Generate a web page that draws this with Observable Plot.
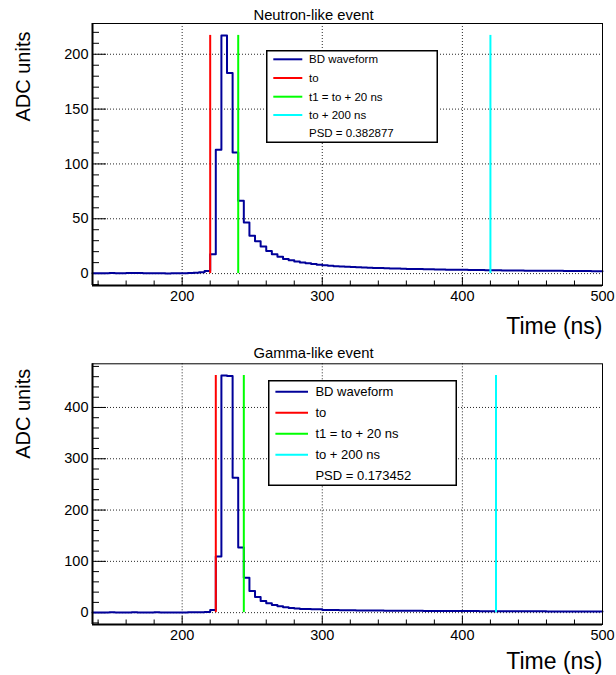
<!DOCTYPE html>
<html>
<head>
<meta charset="utf-8">
<script src="https://cdn.jsdelivr.net/npm/d3@7"></script>
<script src="https://cdn.jsdelivr.net/npm/@observablehq/plot@0.6"></script>
<style>
  html, body { margin: 0; padding: 0; background: #fff; }
  body { width: 616px; height: 675px; overflow: hidden; font-family: "Liberation Sans", Arial, Helvetica, sans-serif; }
  .pad { position: relative; width: 616px; }
  .pad svg { display: block; }
  .legend { position: absolute; }
</style>
</head>
<body>
<div id="chart"></div>
<script>
// ---------------- data ----------------
const xDomain = [136, 500];         // time window (ns)
const binWidth = 4;                 // ns per sample
const timeBins = d3.range(xDomain[0], xDomain[1], binWidth); // bin start times

const xMajorTicks = [200, 300, 400, 500];
const xMinorTicks = [140, 160, 180, 220, 240, 260, 280, 320, 340, 360, 380, 420, 440, 460, 480];

// Neutron-like event waveform (ADC units per 4 ns bin, starting at 136 ns)
const neutronValues = [
  0.4, 0.3, 0.4, 0.5, 0.3, 0.4, 0.5, 0.6, 0.5, 0.4, 0.3, 0.4, 0.3, 0.2, 0.3, 0.3, 0.4, 0.6, 0.8,
  1.2, 2.3, 17.7, 113, 217.2, 183, 110.5, 66.5, 46.5, 34.5, 29.5, 24.8, 20.7, 17.6, 15.4, 13.4,
  12.1, 11.1, 10.2, 9.4, 8.7, 8.0, 7.6, 7.1, 6.7, 6.4, 6.2, 6.0, 5.8, 5.6, 5.4, 5.2, 5.0, 4.9,
  4.7, 4.6, 4.5, 4.3, 4.2, 4.1, 4.0, 3.9, 3.8, 3.7, 3.6, 3.5, 3.4, 3.4, 3.3, 3.2, 3.2, 3.1,
  3.0, 3.0, 2.9, 2.9, 2.8, 2.8, 2.7, 2.7, 2.6, 2.6, 2.5, 2.5, 2.5, 2.4, 2.4, 2.3, 2.3, 2.3,
  2.2, 2.2
];
const neutronT0 = 220;
const neutronPSD = "0.382877";
const neutronYDomain = [-10.85, 228.05];
const neutronYMajor = [0, 50, 100, 150, 200];
const neutronYMinor = [-10, 10, 20, 30, 40, 60, 70, 80, 90, 110, 120, 130, 140, 160, 170, 180, 190, 210, 220];

// Gamma-like event waveform
const gammaValues = [
  0.5, 0.4, 0.5, 0.6, 0.4, 0.5, 0.5, 0.6, 0.5, 0.4, 0.5, 0.6, 0.5, 0.4, 0.5, 0.5, 0.4, 0.6, 0.7, 0.9,
  1.5, 5.2, 109.5, 462.3, 461.5, 263, 127, 68, 42.3, 30.5, 22.7, 18.2, 15.0, 12.3, 10.4, 9.1,
  7.9, 7.3, 7.0, 6.6, 6.4, 5.4, 5.2, 5.0, 4.8, 4.6, 4.5, 4.4, 4.3, 4.2, 4.1, 4.0, 3.9, 3.8,
  3.8, 3.7, 3.6, 3.5, 3.5, 3.4, 3.4, 3.3, 3.3, 3.2, 3.2, 3.1, 3.1, 3.0, 3.0, 2.9, 2.9, 2.8,
  2.8, 2.7, 2.7, 2.7, 2.6, 2.6, 2.5, 2.5, 2.5, 2.4, 2.4, 2.3, 2.3, 2.3, 2.2, 2.2, 2.2, 2.1, 2.1
];
const gammaT0 = 224;
const gammaPSD = "0.173452";
const gammaYDomain = [-23.1, 485.1];
const gammaYMajor = [0, 100, 200, 300, 400];
const gammaYMinor = [-20, 20, 40, 60, 80, 120, 140, 160, 180, 220, 240, 260, 280, 320, 340, 360, 380, 420, 440, 460, 480];

const legendLabels = ["BD waveform", "to", "t1 = to + 20 ns", "to + 200 ns"];
const seriesColors = ["#000099", "#ff0000", "#00ff00", "#00ffff"];

// ---------------- drawing ----------------
const FONT = "'Liberation Sans', Arial, Helvetica, sans-serif";

function panel(cfg) {
  const W = 616, H = cfg.height, mL = 92, mR = 14, mT = cfg.marginTop, mB = cfg.marginBottom;
  const innerW = W - mL - mR, innerH = H - mT - mB;
  const data = timeBins.map((t, i) => ({t, v: cfg.values[i]}));
  data.push({t: xDomain[1], v: cfg.values[cfg.values.length - 1]});
  const peak = d3.max(cfg.values);
  const markers = [cfg.t0, cfg.t0 + 20, cfg.t0 + 200];
  const grid = {stroke: "#000", strokeOpacity: 0.85, strokeDasharray: "1,2", strokeWidth: 1};

  const svg = Plot.plot({
    width: W, height: H,
    marginLeft: mL, marginRight: mR, marginTop: mT, marginBottom: mB,
    style: {fontFamily: FONT, fontSize: "14.5px", background: "white", color: "black", overflow: "visible"},
    x: {domain: xDomain, nice: false},
    y: {domain: cfg.yDomain, nice: false},
    marks: [
      Plot.gridX({ticks: xMajorTicks.filter(d => d < xDomain[1]), ...grid}),
      Plot.gridY({ticks: cfg.yMajor, ...grid}),
      Plot.tickX(xMinorTicks, {x: d => d, insetTop: innerH - 4.5, stroke: "#000"}),
      Plot.tickX(xMajorTicks, {x: d => d, insetTop: innerH - 8, stroke: "#000"}),
      Plot.tickY(cfg.yMinor, {y: d => d, insetRight: innerW - 7, stroke: "#000"}),
      Plot.tickY(cfg.yMajor, {y: d => d, insetRight: innerW - 14, stroke: "#000"}),
      Plot.line(data, {x: "t", y: "v", curve: "step-after", stroke: seriesColors[0], strokeWidth: 2}),
      Plot.ruleX([markers[0]], {x: d => d, y1: 0, y2: peak, stroke: seriesColors[1], strokeWidth: 2}),
      Plot.ruleX([markers[1]], {x: d => d, y1: 0, y2: peak, stroke: seriesColors[2], strokeWidth: 2}),
      Plot.ruleX([markers[2]], {x: d => d, y1: 0, y2: peak, stroke: seriesColors[3], strokeWidth: 2}),
      Plot.frame({stroke: "#000", strokeWidth: 1}),
      Plot.ruleX([xDomain[0]], {stroke: "#000", strokeWidth: 2}),
      Plot.ruleY([cfg.yDomain[0]], {stroke: "#000", strokeWidth: 2}),
      Plot.axisX({ticks: xMajorTicks, tickSize: 0, tickPadding: 5, label: null, tickFormat: d => String(d), fontSize: 14.5}),
      Plot.axisY({ticks: cfg.yMajor, tickSize: 0, tickPadding: 4, label: null, tickFormat: d => String(d), fontSize: 14.5}),
      Plot.text([cfg.title], {text: d => d, frameAnchor: "top-left", dx: 221, dy: cfg.titleDy, fontSize: 14.8, textAnchor: "middle", lineAnchor: "middle", fill: "#000"}),
      Plot.text(["ADC units"], {text: d => d, frameAnchor: "top-left", dx: -69, dy: cfg.yLabelDy, rotate: -90, textAnchor: "end", lineAnchor: "middle", fontSize: 20, fill: "#000"}),
      Plot.text(["Time (ns)"], {text: d => d, frameAnchor: "bottom-right", dy: cfg.xLabelDy, textAnchor: "end", lineAnchor: "middle", fontSize: 23, fill: "#000"})
    ]
  });

  const pad = document.createElement("div");
  pad.className = "pad";
  pad.style.height = H + "px";
  pad.appendChild(svg);

  // legend box (ROOT TLegend look)
  const L = cfg.legend;
  const ns = "http://www.w3.org/2000/svg";
  const lg = document.createElementNS(ns, "svg");
  lg.setAttribute("class", "legend");
  lg.setAttribute("width", L.w);
  lg.setAttribute("height", L.h);
  lg.style.left = L.x + "px";
  lg.style.top = L.y + "px";
  const rect = document.createElementNS(ns, "rect");
  rect.setAttribute("x", 0.75); rect.setAttribute("y", 0.75);
  rect.setAttribute("width", L.w - 1.5); rect.setAttribute("height", L.h - 1.5);
  rect.setAttribute("fill", "#fff"); rect.setAttribute("stroke", "#000"); rect.setAttribute("stroke-width", 1.5);
  lg.appendChild(rect);
  const labels = legendLabels.concat(["PSD = " + cfg.psd]);
  labels.forEach((lab, i) => {
    const cy = L.rows[i];
    if (i < seriesColors.length) {
      const ln = document.createElementNS(ns, "line");
      ln.setAttribute("x1", L.lx1); ln.setAttribute("x2", L.lx2);
      ln.setAttribute("y1", cy); ln.setAttribute("y2", cy);
      ln.setAttribute("stroke", seriesColors[i]); ln.setAttribute("stroke-width", 2);
      lg.appendChild(ln);
    }
    const tx = document.createElementNS(ns, "text");
    tx.setAttribute("x", L.tx); tx.setAttribute("y", cy);
    tx.setAttribute("dy", "0.35em");
    tx.setAttribute("font-family", FONT);
    tx.setAttribute("font-size", L.fs);
    tx.setAttribute("fill", "#000");
    tx.textContent = lab;
    lg.appendChild(tx);
  });
  pad.appendChild(lg);
  return pad;
}

const chart = document.getElementById("chart");
chart.appendChild(panel({
  title: "Neutron-like event", values: neutronValues, t0: neutronT0, psd: neutronPSD,
  yDomain: neutronYDomain, yMajor: neutronYMajor, yMinor: neutronYMinor,
  height: 340, marginTop: 23, marginBottom: 55, titleDy: -8.5, yLabelDy: 8, xLabelDy: 41,
  legend: {x: 266, y: 50, w: 172, h: 93, rows: [9.3, 28, 46.7, 65, 83.3], lx1: 7.3, lx2: 36.3, tx: 43, fs: 11.5}
}));
chart.appendChild(panel({
  title: "Gamma-like event", values: gammaValues, t0: gammaT0, psd: gammaPSD,
  yDomain: gammaYDomain, yMajor: gammaYMajor, yMinor: gammaYMinor,
  height: 335, marginTop: 23.3, marginBottom: 51, titleDy: -10.5, yLabelDy: 5, xLabelDy: 37.5,
  legend: {x: 268, y: 40, w: 189, h: 106, rows: [11.7, 32.7, 53.7, 74.7, 95.3], lx1: 7.4, lx2: 40, tx: 47.4, fs: 13}
}));
</script>
</body>
</html>
